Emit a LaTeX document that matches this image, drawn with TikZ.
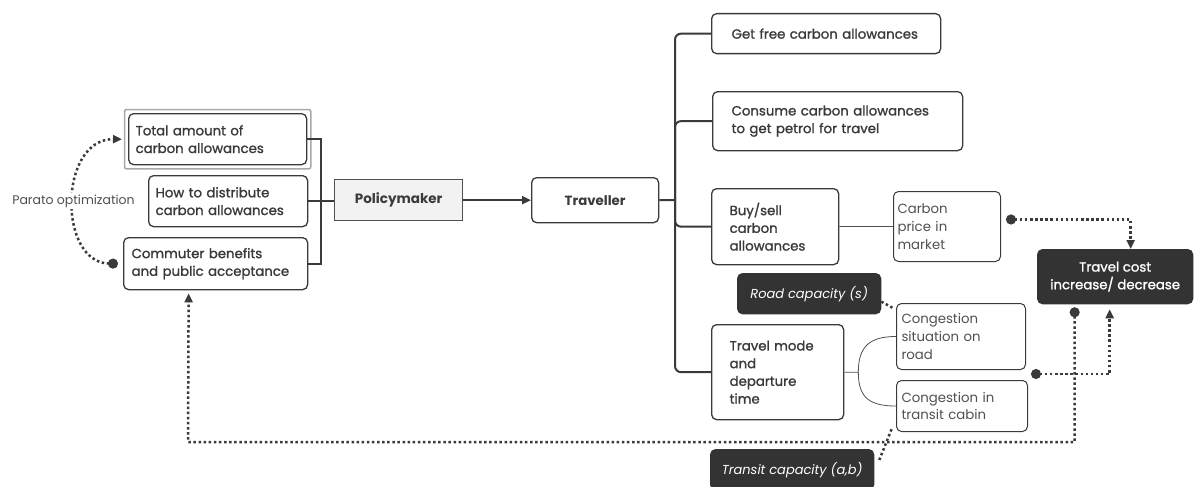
\documentclass[tikz,border=0pt]{standalone}
\usepackage{fontspec}
\setmainfont{Poppins}
\newfontfamily\medfont[BoldFont={Poppins}, BoldFeatures={FakeBold=1.3}]{Poppins}
\usetikzlibrary{arrows.meta,fit}

\definecolor{inkgray}{HTML}{3A3A3A}
\definecolor{boxdark}{HTML}{333333}
\definecolor{polfill}{HTML}{F2F2F2}
\definecolor{framegray}{HTML}{A8A8A8}
\definecolor{labelgray}{HTML}{505050}

\tikzstyle{block} = [rectangle, draw=inkgray, line width=1.3pt, fill=white, rounded corners=5pt, anchor=north west, align=left, text=inkgray, inner ysep=0pt, font=\fontsize{13.3}{17.7}\selectfont\medfont\bfseries]
\tikzstyle{plainblock} = [block, line width=1pt, text=labelgray, font=\fontsize{13.3}{17.7}\selectfont\mdseries]
\tikzstyle{darkblock} = [block, fill=boxdark, draw=boxdark, text=white, align=center]
\tikzstyle{bracket} = [draw=inkgray, line width=2pt]
\tikzstyle{thinline} = [draw=labelgray, line width=0.8pt]
\tikzstyle{dotline} = [draw=inkgray, line width=2.5pt, dash pattern=on 2.5pt off 2.6pt]

\begin{document}
\begin{tikzpicture}[x=1pt, y=-1pt, >={Triangle[length=9pt, width=8pt]}]

\useasboundingbox (0,0) rectangle (1194,487);

\node [block, minimum width=178, minimum height=51, text width=164, inner xsep=7] (tot) at (128,113) {Total amount of\\carbon allowances};

\node [draw=framegray, line width=1.5pt, rounded corners=2pt, inner sep=3.5pt, fit=(tot)] (totframe) {};

\node [block, minimum width=159, minimum height=51, text width=145, inner xsep=7] (dist) at (148,175) {How to distribute\\carbon allowances};

\node [block, minimum width=184, minimum height=52, text width=168, inner xsep=8] (comm) at (123,237) {Commuter benefits\\and public acceptance};

\node [block, rounded corners=0pt, fill=polfill, draw=labelgray, minimum width=128, minimum height=41, align=center, font=\fontsize{13.5}{15}\selectfont\bfseries] (pol) at (334,179) {Policymaker};

\node [block, minimum width=127, minimum height=45, align=center, font=\fontsize{13.3}{15}\selectfont\bfseries] (trav) at (531,177) {Traveller};

\node [block, minimum width=229, minimum height=40, text width=189, inner xsep=20] (free) at (711,13) {Get free carbon allowances};

\node [block, minimum width=250, minimum height=59, text width=212, inner xsep=19] (cons) at (712,91) {Consume carbon allowances\\to get petrol for travel};

\node [block, minimum width=127, minimum height=76, text width=91, inner xsep=18] (buy) at (711,188) {Buy/sell\\carbon\\allowances};

\node [plainblock, minimum width=107, minimum height=70, text width=99, inner xsep=4] (price) at (893,191) {Carbon\\price in\\market};

\node [darkblock, minimum width=155, minimum height=54] (cost) at (1037,249) {Travel cost\\increase/ decrease};

\node [darkblock, minimum width=143, minimum height=40, font=\fontsize{13}{15}\selectfont\medfont\bfseries\itshape] (road) at (737,273) {Road capacity (s)};

\node [plainblock, minimum width=129, minimum height=66, text width=119, inner xsep=5] (csit) at (896,303) {Congestion\\situation on\\road};

\node [plainblock, minimum width=131, minimum height=51, text width=121, inner xsep=5] (ctra) at (896,380) {Congestion in\\transit cabin};

\node [block, minimum width=132, minimum height=95, text width=96, inner xsep=18] (mode) at (711,324) {Travel mode\\and\\departure\\time};

\node [darkblock, minimum width=163, minimum height=40, font=\fontsize{13}{15}\selectfont\medfont\bfseries\itshape] (tcap) at (710,449) {Transit capacity (a,b)};

\coordinate (lj) at (321,200);

\coordinate (rj) at (675,200);

\draw [bracket] (tot.east) -| (lj) |- (comm.east);

\draw [bracket] (dist.east) -- (dist.east -| pol.west);

\draw [bracket, ->] (pol) -- (trav);

\draw [bracket] (trav.east) -- (rj);

\draw [bracket, rounded corners=6pt] (free.west) -| (rj) |- (mode.west);

\draw [bracket, rounded corners=6pt] (cons.west) -| (rj);

\draw [bracket, rounded corners=6pt] (buy.west) -| (rj);

\draw [thinline] (buy) -- (price);

\draw [thinline] (mode.east) -- ++(14,0) coordinate (mfork) .. controls +(0,-26) and +(-26,0) .. (csit.west);

\draw [thinline] (mfork) .. controls +(0,26) and +(-26,0) .. (ctra.west);

\draw [dotline, {Circle[length=10pt]}->] ([xshift=-5pt]comm.west) .. controls (58,263) and (58,139) .. ([xshift=-6pt]tot.west) node [pos=0.5, fill=white, inner sep=2pt, text=labelgray, font=\fontsize{12.5}{14}\selectfont] (parlab) {Parato optimization};

\draw [dotline, {Circle[length=10pt]}->] ([xshift=5pt, yshift=7pt]price.east) -| ([xshift=15.5pt]cost.north);

\draw [dotline, {Circle[length=10pt]}->] ([xshift=5pt, yshift=-4pt]csit.south east) -| ([xshift=-5.5pt, yshift=-5pt]cost.south);

\draw [dotline, {Circle[length=10pt]}->] ([xshift=-40.5pt, yshift=-3pt]cost.south) |- (188,442) -- ([xshift=-27pt, yshift=-3pt]comm.south);

\draw [dotline] ([yshift=-8pt]road.east) -- ([xshift=-3pt, yshift=-5pt]csit.north west);

\draw [dotline] ([xshift=5pt, yshift=-11pt]tcap.north east) -- ([xshift=-4pt, yshift=4pt]ctra.south west);

\end{tikzpicture}
\end{document}
